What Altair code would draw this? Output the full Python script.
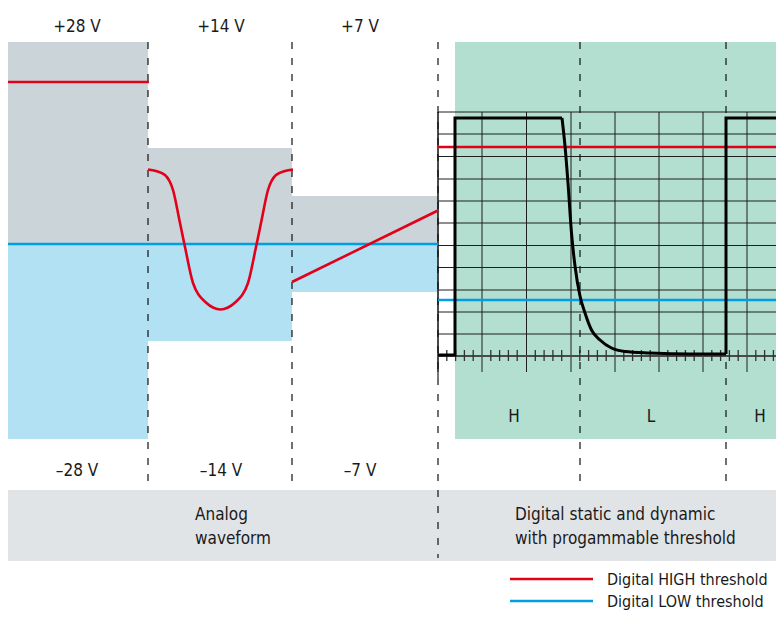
import altair as alt
import pandas as pd

W, H = 768, 604
X0, Y0 = 8, 8
FONT = "'Liberation Sans Narrow', 'DejaVu Sans Condensed', 'Roboto Condensed', Roboto, sans-serif"

# ---------------- data (diagram units) ----------------
RED = "#e2001a"
BLUE = "#009fe3"
GRAY_BOX = "#cbd4d8"
BLUE_BOX = "#b2e1f4"
GREEN_BOX = "#b2dfcf"
BAND = "#e1e4e7"

# analog columns: left, right, top of gray, zero line, bottom of blue
col_left = [8, 148, 292]
col_right = [148, 292, 438]
col_top = [42, 148, 196]
col_zero = [244, 244, 244]
col_bottom = [439, 341, 292]

# digital area & text band
green_box = dict(x=455, x2=790, y=42, y2=439)
band_box = dict(x=8, x2=790, y=490, y2=561)

# dashed separators
dash_x = [148, 292, 438, 580, 726]
dash_end = [490, 490, 558, 490, 490]

# oscilloscope grid
grid_h = [112, 134, 156.5, 179, 201, 223, 245.5, 267.5, 290, 312, 334]
axis_y = 356
grid_v = [438, 482, 526.5, 571, 615, 659, 703, 747, 791]
minor_ticks = [g + k * (grid_v[1] - grid_v[0]) / 5 for g in grid_v[:-1] for k in range(1, 5)]

# thresholds
red_left_y, red_right_y = 82, 147
blue_left_y, blue_right_y = 244, 300

# analog +/-14 V waveform
sine_x = [148, 156, 165, 173, 180, 185, 193, 206.5, 213, 220.5, 228, 234.5, 248, 256, 261, 268, 276, 285, 293]
sine_y = [169.5, 171, 175, 190, 223, 247, 283, 303, 307.5, 309.5, 307.5, 303, 283, 247, 223, 190, 175, 171, 169.5]
# analog +/-7 V ramp
ramp_x = [292, 438]
ramp_y = [282, 210.5]

# digital waveform
dig1_x = [438, 455, 455, 562]
dig1_y = [355, 355, 118, 118]
fall_x = [562, 565, 568, 571.5, 575, 580, 585, 591.5, 600, 611.5, 625, 650, 690, 726]
fall_y = [118, 146, 183, 233, 266, 296, 313, 330, 340, 348, 351.5, 353, 354, 354]
dig2_x = [726, 726, 792]
dig2_y = [354, 118, 118]

top_labels = ["+28 V", "+14 V", "+7 V"]
bottom_labels = ["\u201328 V", "\u201314 V", "\u20137 V"]
label_x = [77, 221, 360]
state_labels = ["H", "L", "H"]
state_x = [514, 651, 760]
legend_labels = ["Digital HIGH threshold", "Digital LOW threshold"]
legend_y = [579, 601]

# ---------------- helpers ----------------
xsc = alt.Scale(domain=[X0, X0 + W], nice=False, zero=False)
ysc = alt.Scale(domain=[Y0, Y0 + H], nice=False, zero=False, reverse=True)


def ex(f="x"):
    return alt.X(f"{f}:Q", scale=xsc, axis=None)


def ey(f="y"):
    return alt.Y(f"{f}:Q", scale=ysc, axis=None)


def rects(df):
    return alt.Chart(df).mark_rect(strokeWidth=0, clip=True).encode(
        x=ex("x"), x2="x2:Q", y=ey("y"), y2="y2:Q",
        color=alt.Color("c:N", scale=None))


def rules(df, **kw):
    return alt.Chart(df).mark_rule(clip=True, **kw).encode(
        x=ex("x"), x2="x2:Q", y=ey("y"), y2="y2:Q",
        color=alt.Color("c:N", scale=None),
        strokeWidth=alt.StrokeWidth("w:Q", scale=None))


def line(xs, ys, color, width, interp="linear"):
    df = pd.DataFrame({"x": xs, "y": ys, "o": range(len(xs))})
    return alt.Chart(df).mark_line(color=color, strokeWidth=width, interpolate=interp,
                                   strokeJoin="miter", strokeCap="butt", clip=True).encode(
        x=ex("x"), y=ey("y"), order="o:Q")


def texts(xs, ys, labels, align="center", size=17):
    df = pd.DataFrame({"x": xs, "y": ys, "t": labels})
    return alt.Chart(df).mark_text(align=align, baseline="alphabetic", font=FONT,
                                   fontSize=size, color="#1a1a1a").encode(
        x=ex("x"), y=ey("y"), text="t:N")


# ---------------- layers ----------------
box_rows = []
for l, r, t, z, b in zip(col_left, col_right, col_top, col_zero, col_bottom):
    box_rows.append(dict(x=l, x2=r, y=t, y2=z, c=GRAY_BOX))
    box_rows.append(dict(x=l, x2=r, y=z, y2=b, c=BLUE_BOX))
box_rows.append(dict(**green_box, c=GREEN_BOX))
box_rows.append(dict(**band_box, c=BAND))
boxes = rects(pd.DataFrame(box_rows))

grid_rows = [dict(x=438, x2=792, y=g, y2=g, c="#1e1e1e", w=1) for g in grid_h]
grid_rows += [dict(x=g, x2=g, y=112, y2=372, c="#1e1e1e", w=1) for g in grid_v]
grid_rows += [dict(x=438, x2=438, y=112, y2=378, c="#1e1e1e", w=1.2)]
grid_rows += [dict(x=438, x2=792, y=axis_y, y2=axis_y, c="#4a4a4a", w=2)]
grid_rows += [dict(x=t, x2=t, y=350, y2=361, c="#333333", w=1.3) for t in minor_ticks]
grid = rules(pd.DataFrame(grid_rows))

dash_rows = [dict(x=d, x2=d, y=42, y2=e, c="#111111", w=1.2) for d, e in zip(dash_x, dash_end)]
dashes = rules(pd.DataFrame(dash_rows), strokeDash=[7, 9])

thr_rows = [
    dict(x=7, x2=149, y=red_left_y, y2=red_left_y, c=RED, w=2.6),
    dict(x=438, x2=792, y=red_right_y, y2=red_right_y, c=RED, w=2.6),
    dict(x=7, x2=438, y=blue_left_y, y2=blue_left_y, c=BLUE, w=2.6),
    dict(x=438, x2=792, y=blue_right_y, y2=blue_right_y, c=BLUE, w=2.6),
    dict(x=510, x2=593, y=legend_y[0], y2=legend_y[0], c=RED, w=2.6),
    dict(x=510, x2=593, y=legend_y[1], y2=legend_y[1], c=BLUE, w=2.6),
]
thresholds = rules(pd.DataFrame(thr_rows))

sine = line(sine_x, sine_y, RED, 2.6, "monotone")
ramp = line(ramp_x, ramp_y, RED, 2.6)
dig1 = line(dig1_x, dig1_y, "#000000", 3)
fall = line(fall_x, fall_y, "#000000", 3, "monotone")
dig2 = line(dig2_x, dig2_y, "#000000", 3)

t_top = texts(label_x, [31.5] * 3, top_labels)
t_bot = texts(label_x, [475.5] * 3, bottom_labels)
t_state = texts(state_x, [422] * 3, state_labels)
t_analog = texts([195, 195], [520, 544], ["Analog", "waveform"], align="left")
t_dig = texts([515, 515], [520, 544], ["Digital static and dynamic", "with progammable threshold"], align="left")
t_leg = texts([607, 607], [y + 6 for y in legend_y], legend_labels, align="left", size=16)

chart = alt.layer(
    boxes, grid, dashes, thresholds, sine, ramp, dig1, fall, dig2,
    t_top, t_bot, t_state, t_analog, t_dig, t_leg,
).properties(
    width=W, height=H, padding=0, autosize=alt.AutoSizeParams(type="none")
).configure_view(stroke=None)

chart.save("out.html", embed_options={"renderer": "svg", "actions": False})
